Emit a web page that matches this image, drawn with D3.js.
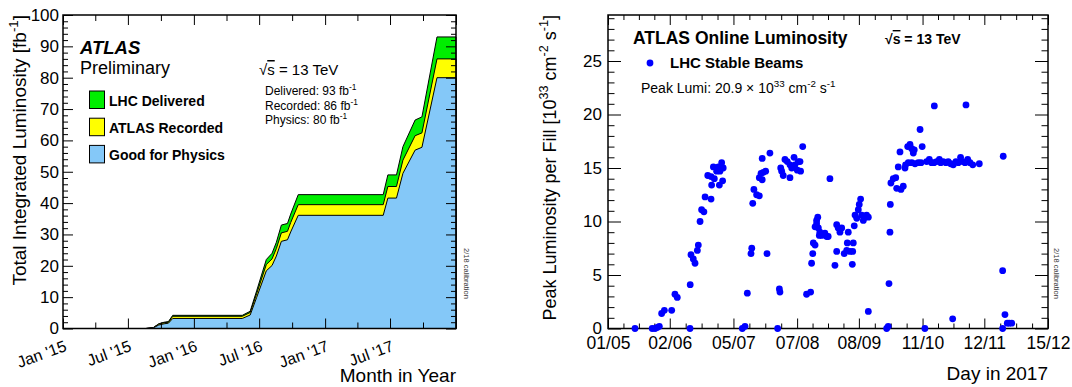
<!DOCTYPE html>
<html>
<head>
<meta charset="utf-8">
<script src="https://cdn.jsdelivr.net/npm/d3@7"></script>
<style>
  body { margin: 0; background: #fff; }
  svg { font-family: "Liberation Sans", Arial, Helvetica, sans-serif; }
</style>
</head>
<body>
<svg id="chart" width="1072" height="387"></svg>
<script>
// ---------- left panel: cumulative integrated luminosity ----------
const lumiDates = ['2015-01-01', '2015-08-20', '2015-09-10', '2015-09-25', '2015-10-10', '2015-10-22', '2015-11-03',
    '2016-05-15', '2016-06-06', '2016-06-24', '2016-07-21', '2016-08-06', '2016-08-18', '2016-09-01', '2016-09-18',
    '2016-09-27', '2016-10-18', '2017-06-12', '2017-06-25', '2017-07-19', '2017-08-06', '2017-09-09', '2017-09-28',
    '2017-11-09', '2018-01-01'];
const deliveredLumi = [0, 0, 0.3, 1.5, 2.0, 2.2, 4.2, 4.2, 5.5, 12, 22, 24, 27.5, 33, 33.5, 36.5, 42.7, 42.7, 49, 49, 58, 66.5, 67.5, 93, 93];
const recordedLumi = [0, 0, 0.3, 1.4, 1.85, 2.0, 3.9, 3.9, 5.1, 11.1, 20.4, 22.2, 25.5, 30.5, 31.0, 33.8, 39.5, 39.5, 45.3, 45.3, 53.7, 61.5, 62.4, 86, 86];
const physicsLumi = [0, 0, 0.2, 1.1, 1.5, 1.7, 3.2, 3.2, 4.3, 9.9, 18.4, 20.1, 23.1, 27.8, 28.3, 30.8, 36.1, 36.1, 41.6, 41.6, 49.5, 56.9, 57.8, 80, 80];
const monthTickDates = ['2015-01-01', '2015-07-01', '2016-01-01', '2016-07-01', '2017-01-01', '2017-07-01'];
const monthTickLabels = ["Jan '15", "Jul '15", "Jan '16", "Jul '16", "Jan '17", "Jul '17"];

// ---------- right panel: peak luminosity per fill, 2017 ----------
// day of year 2017 (1 = Jan 1)
const fillDay = [135.0, 143.9, 145.4, 146.5, 147.6, 148.8, 150.2, 154.0, 155.7, 156.9, 163.5, 163.6, 164.0, 165.2, 166.1,
    167.3, 167.8, 168.7, 169.5, 170.7, 171.3, 174.4, 174.7, 172.7, 174.4, 176.1, 175.6, 177.3, 178.2, 179.0, 179.9, 180.7,
    178.7, 180.4, 190.6, 192.0, 193.2, 195.1, 195.5, 196.0, 196.6, 198.0, 199.4, 199.4, 200.3, 200.9, 201.5, 202.7, 200.9,
    204.9, 203.4, 208.9, 209.8, 210.1, 210.5, 211.0, 211.8, 212.7, 213.9, 215.3, 215.3, 216.2, 217.4, 217.9, 219.1, 219.6,
    220.5, 220.8, 221.9, 223.9, 226.0, 226.5, 227.1, 227.4, 228.3, 228.3, 229.1, 229.7, 230.5, 229.1, 230.0, 230.8, 231.7,
    233.4, 234.3, 235.1, 236.0, 238.6, 239.5, 239.5, 240.3, 241.2, 242.1, 243.4, 244.7, 245.0, 246.4, 247.8, 248.1, 245.5,
    247.6, 248.6, 249.0, 249.9, 250.7, 251.2, 251.9, 252.5, 253.3, 254.2, 255.0, 255.9, 255.9, 265.4, 266.2, 266.6, 267.1,
    267.3, 267.6, 268.8, 270.1, 270.6, 272.8, 274.0, 271.4, 274.9, 275.2, 276.6, 278.4, 280.1, 281.8, 272.3, 276.3, 277.5,
    278.4, 279.2, 279.7, 282.7, 283.8, 290.1, 306.5, 325.8, 283.2, 286.1, 287.5, 288.7, 289.9, 291.3, 292.7, 293.4, 294.7,
    296.1, 297.3, 298.6, 299.9, 301.3, 302.5, 303.7, 304.8, 306.0, 307.4, 308.6, 310.0, 313.4, 285.2, 299.6, 325.5, 325.5,
    326.7, 327.9, 328.9, 330.2];
const peakLumi = [0, 0, 0, 0.1, 0.2, 1.4, 1.7, 1.7, 3.2, 2.9, 0, 4.1, 6.9, 6.5, 6.1,
    7.3, 7.8, 10.0, 11.1, 10.9, 12.3, 12.1, 13.4, 14.3, 14.2, 14.0, 15.1, 14.7, 15.1, 14.7, 15.5, 15.0,
    13.4, 13.8, 0, 0.2, 3.3, 7.0, 7.5, 11.7, 13.0, 12.5, 12.4, 14.1, 14.5, 13.9, 14.6, 14.7, 15.9,
    16.4, 7.0, 0, 3.7, 3.4, 15.0, 14.7, 14.3, 15.8, 15.6, 15.3, 14.1, 15.0, 16.0, 15.3, 14.8, 15.6,
    15.6, 14.7, 17.0, 3.2, 3.4, 6.1, 7.0, 8.0, 7.8, 9.5, 10.1, 10.4, 8.7, 9.8, 9.4, 9.0, 8.7,
    8.9, 8.6, 8.6, 14.0, 5.9, 7.2, 9.7, 9.4, 9.0, 9.4, 7.0, 7.3, 8.0, 7.2, 7.2, 8.0, 9.0,
    6.0, 9.6, 10.6, 10.3, 11.1, 11.6, 12.1, 10.6, 10.1, 10.4, 10.6, 10.4, 1.6, 0, 0.2, 4.2, 9.0,
    11.6, 13.6, 14.0, 14.1, 13.1, 13.0, 13.3, 15.1, 15.0, 15.3, 15.5, 15.5, 15.4, 15.5, 16.5, 17.0, 17.2,
    16.8, 16.4, 16.7, 18.6, 17.0, 20.8, 20.9, 16.1, 15.5, 15.6, 15.8, 15.5, 15.5, 15.6, 15.8, 15.5, 15.6,
    15.5, 15.6, 15.4, 15.3, 15.6, 15.5, 16.0, 15.6, 15.5, 15.8, 15.5, 15.3, 15.4, 0, 0.9, 0, 5.4,
    1.3, 0.5, 0.5, 0.5];
const dayTickDates = ['2017-05-01', '2017-06-02', '2017-07-05', '2017-08-07', '2017-09-08', '2017-10-11', '2017-11-12', '2017-12-15'];

const parseDate = d3.timeParse('%Y-%m-%d');
const svg = d3.select('#chart');

// superscripts: plain strings are normal text, {sup: '...'} is raised
function richText(text, parts, size) {
    let raised = false;
    parts.forEach(p => {
        const isSup = typeof p !== 'string';
        const t = text.append('tspan').text(isSup ? p.sup : p);
        if (isSup) {
            t.attr('font-size', size * 0.7);
            if (!raised) { t.attr('dy', -size * 0.42); raised = true; }
        } else if (raised) {
            t.attr('dy', size * 0.42);
            raised = false;
        }
    });
    return text;
}

function label(x, y, size, parts, opts = {}) {
    const t = svg.append('text')
        .attr('x', x).attr('y', y)
        .attr('font-size', size)
        .attr('font-weight', opts.bold ? 'bold' : null)
        .attr('font-style', opts.italic ? 'italic' : null)
        .attr('text-anchor', opts.anchor || 'start')
        .attr('transform', opts.rotate ? `rotate(${opts.rotate}, ${x}, ${y})` : null)
        .attr('fill', opts.fill || '#000');
    return richText(t, parts, size);
}

function sqrtS(x, y, size, bold) {
    const t = svg.append('text').attr('x', x).attr('y', y).attr('font-size', size)
        .attr('font-weight', bold ? 'bold' : null);
    t.append('tspan').text('\u221A');
    t.append('tspan').text('s').style('text-decoration', 'overline');
    t.append('tspan').text(' = 13 TeV');
}

// ticks drawn inward on all four sides, ROOT style
function frameTicks(frame, x, y, xTicks, yTicks) {
    const sides = [
        [d3.axisBottom, x, xTicks, `translate(0,${frame.y1})`],
        [d3.axisTop, x, xTicks, `translate(0,${frame.y0})`],
        [d3.axisLeft, y, yTicks, `translate(${frame.x0},0)`],
        [d3.axisRight, y, yTicks, `translate(${frame.x1},0)`]
    ];
    sides.forEach(([axisFn, scale, ticks, tr]) => {
        ticks.forEach(t => {
            const g = svg.append('g').attr('transform', tr)
                .call(axisFn(scale).tickValues(t.values).tickSize(-t.size).tickSizeOuter(0).tickFormat(''));
            g.select('.domain').remove();
            g.selectAll('line').attr('stroke', '#000').attr('stroke-width', 1);
        });
    });
    svg.append('rect')
        .attr('x', frame.x0).attr('y', frame.y0)
        .attr('width', frame.x1 - frame.x0).attr('height', frame.y1 - frame.y0)
        .attr('fill', 'none').attr('stroke', '#000').attr('stroke-width', 1.5);
}

// ================= left panel =================
const leftFrame = { x0: 63, x1: 456, y0: 15, y1: 328.5 };
const lx = d3.scaleTime()
    .domain([new Date(2015, 0, 1), new Date(2018, 0, 1)])
    .range([leftFrame.x0, leftFrame.x1]);
const ly = d3.scaleLinear().domain([0, 100]).range([leftFrame.y1, leftFrame.y0]);

const lumiSeries = [
    { values: deliveredLumi, color: '#00ee00' },
    { values: recordedLumi, color: '#ffff00' },
    { values: physicsLumi, color: '#84c8f8' }
];
const lumiArea = d3.area()
    .x(d => lx(d[0]))
    .y0(ly(0))
    .y1(d => ly(d[1]));
lumiSeries.forEach(s => {
    svg.append('path')
        .datum(lumiDates.map((d, i) => [parseDate(d), s.values[i]]))
        .attr('d', lumiArea)
        .attr('fill', s.color)
        .attr('stroke', '#000')
        .attr('stroke-width', 1)
        .attr('stroke-linejoin', 'round');
});

const quarterTicks = d3.timeMonth.every(3).range(new Date(2015, 0, 1), new Date(2018, 0, 2));
frameTicks(leftFrame, lx, ly,
    [
        { values: quarterTicks.filter(d => d.getMonth() % 6 === 0), size: 10 },
        { values: quarterTicks.filter(d => d.getMonth() % 6 !== 0), size: 6 }
    ],
    [
        { values: d3.range(0, 101, 10), size: 10 },
        { values: d3.range(0, 101, 2).filter(v => v % 10 !== 0), size: 5 }
    ]);

// y tick labels
const lyAxis = svg.append('g').attr('transform', `translate(${leftFrame.x0},0)`)
    .call(d3.axisLeft(ly).tickValues(d3.range(0, 101, 10)).tickSize(0).tickPadding(4));
lyAxis.select('.domain').remove();
lyAxis.attr('font-size', 17).attr('font-family', null);

// rotated month labels
const lxAxis = svg.append('g').attr('transform', `translate(0,${leftFrame.y1})`)
    .call(d3.axisBottom(lx).tickValues(monthTickDates.map(parseDate)).tickSize(0)
        .tickFormat((d, i) => monthTickLabels[i]));
lxAxis.select('.domain').remove();
lxAxis.attr('font-size', 16).attr('font-family', null);
lxAxis.selectAll('text')
    .attr('y', null).attr('dy', null)
    .attr('text-anchor', 'end')
    .attr('transform', 'translate(4,22) rotate(-20)');

label(26, leftFrame.y0, 19, ['Total Integrated Luminosity [fb', { sup: '-1' }, ']'], { rotate: -90, anchor: 'end' });
label(leftFrame.x1, 382, 19, ['Month in Year'], { anchor: 'end' });

label(80, 54, 18.5, ['ATLAS'], { bold: true, italic: true });
label(80, 74, 18, ['Preliminary']);

const legendItems = [
    { name: 'LHC Delivered', color: '#00ee00' },
    { name: 'ATLAS Recorded', color: '#ffff00' },
    { name: 'Good for Physics', color: '#84c8f8' }
];
legendItems.forEach((item, i) => {
    const y = 91 + i * 27.2;
    svg.append('rect').attr('x', 89.5).attr('y', y).attr('width', 15).attr('height', 17.5)
        .attr('fill', item.color).attr('stroke', '#000').attr('stroke-width', 1);
    label(109, y + 14.5, 14, [item.name], { bold: true });
});

sqrtS(259, 75, 15, false);
label(265, 95, 12, ['Delivered: 93 fb', { sup: '-1' }]);
label(265, 110, 12, ['Recorded: 86 fb', { sup: '-1' }]);
label(265, 124, 12, ['Physics: 80 fb', { sup: '-1' }]);
label(464, 248, 7.5, ['2/18 calibration'], { rotate: 90, fill: '#333' });

// ================= right panel =================
const rightFrame = { x0: 608, x1: 1048, y0: 15, y1: 328.5 };
const dayLabelDates = dayTickDates.map(parseDate);
const rx = d3.scaleTime()
    .domain([dayLabelDates[0], dayLabelDates[dayLabelDates.length - 1]])
    .range([rightFrame.x0, rightFrame.x1]);
const ry = d3.scaleLinear().domain([0, 29.3]).range([rightFrame.y1, rightFrame.y0]);

const minorDays = d3.pairs(dayLabelDates).flatMap(([a, b]) =>
    [1, 2, 3].map(k => new Date(+a + (b - a) * k / 4)));
frameTicks(rightFrame, rx, ry,
    [
        { values: dayLabelDates, size: 10 },
        { values: minorDays, size: 5 }
    ],
    [
        { values: d3.range(0, 26, 5), size: 13 },
        { values: d3.range(0, 30, 1).filter(v => v % 5 !== 0), size: 6.5 }
    ]);

const ryAxis = svg.append('g').attr('transform', `translate(${rightFrame.x0},0)`)
    .call(d3.axisLeft(ry).tickValues(d3.range(0, 26, 5)).tickSize(0).tickPadding(6));
ryAxis.select('.domain').remove();
ryAxis.attr('font-size', 17).attr('font-family', null);

const rxAxis = svg.append('g').attr('transform', `translate(0,${rightFrame.y1})`)
    .call(d3.axisBottom(rx).tickValues(dayLabelDates).tickSize(0).tickPadding(8)
        .tickFormat(d3.timeFormat('%d/%m')));
rxAxis.select('.domain').remove();
rxAxis.attr('font-size', 17.5).attr('font-family', null);

const jan1 = new Date(2017, 0, 1).getTime();
svg.append('g')
    .selectAll('circle')
    .data(fillDay.map((d, i) => [new Date(jan1 + (d - 1) * 864e5), peakLumi[i]]))
    .join('circle')
    .attr('cx', d => rx(d[0]))
    .attr('cy', d => ry(d[1]))
    .attr('r', 3.4)
    .attr('fill', '#0000ff');

label(556, rightFrame.y0, 18, ['Peak Luminosity per Fill [10', { sup: '33' }, ' cm', { sup: '-2' }, ' s', { sup: '-1' }, ']'],
    { rotate: -90, anchor: 'end' });
label(rightFrame.x1, 380, 19, ['Day in 2017'], { anchor: 'end' });

label(633, 44, 17.5, ['ATLAS Online Luminosity'], { bold: true });
sqrtS(885, 44, 14, true);
svg.append('circle').attr('cx', 650).attr('cy', 63).attr('r', 3.4).attr('fill', '#0000ff');
label(670, 68, 15, ['LHC Stable Beams'], { bold: true });
label(641, 93, 14, ['Peak Lumi: 20.9 \u00D7 10', { sup: '33' }, ' cm', { sup: '-2' }, ' s', { sup: '-1' }]);
label(1054, 248, 7.5, ['2/18 calibration'], { rotate: 90, fill: '#333' });
</script>
</body>
</html>
